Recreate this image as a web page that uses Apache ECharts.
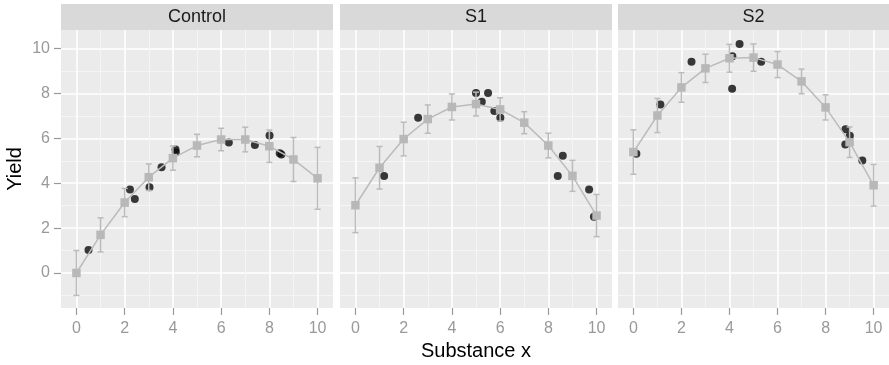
<!DOCTYPE html>
<html>
<head>
<meta charset="utf-8">
<script src="https://cdn.jsdelivr.net/npm/echarts@6/dist/echarts.min.js"></script>
<style>
html,body{margin:0;padding:0;background:#fff;}
#chart{width:889px;height:365px;}
</style>
</head>
<body>
<div id="chart"></div>
<script>
// ---- data ----
var panelNames = ['Control', 'S1', 'S2'];
var xLevels = [0, 1, 2, 3, 4, 5, 6, 7, 8, 9, 10];
var xTicks = [0, 2, 4, 6, 8, 10];
var xMinorTicks = [1, 3, 5, 7, 9];
var yTicks = [0, 2, 4, 6, 8, 10];
var yMinorTicks = [-1, 1, 3, 5, 7, 9];

var controlMean = [0.0, 1.70, 3.14, 4.27, 5.12, 5.68, 5.95, 5.95, 5.65, 5.06, 4.22];
var controlErr  = [1.0, 0.76, 0.63, 0.59, 0.54, 0.50, 0.50, 0.55, 0.72, 0.98, 1.38];
var s1Mean = [3.02, 4.69, 5.97, 6.86, 7.40, 7.53, 7.29, 6.70, 5.68, 4.33, 2.56];
var s1Err  = [1.22, 0.95, 0.75, 0.63, 0.58, 0.53, 0.52, 0.49, 0.55, 0.69, 0.94];
var s2Mean = [5.39, 7.02, 8.27, 9.12, 9.57, 9.60, 9.29, 8.54, 7.38, 5.83, 3.91];
var s2Err  = [0.99, 0.76, 0.66, 0.63, 0.62, 0.61, 0.58, 0.55, 0.56, 0.68, 0.93];

var controlPtsX = [0.5, 2.22, 2.42, 3.03, 3.53, 4.11, 4.12, 6.32, 7.4, 8.01, 8.43, 8.5];
var controlPtsY = [1.03, 3.72, 3.30, 3.82, 4.71, 5.50, 5.38, 5.82, 5.70, 6.13, 5.34, 5.28];
var s1PtsX = [1.19, 2.6, 5.0, 5.24, 5.5, 5.76, 6.01, 8.39, 8.6, 9.69, 9.89];
var s1PtsY = [4.32, 6.92, 8.02, 7.63, 8.02, 7.22, 6.92, 4.32, 5.22, 3.72, 2.51];
var s2PtsX = [0.125, 1.125, 2.42, 4.11, 4.12, 4.42, 5.32, 8.83, 9.01, 8.82, 9.53];
var s2PtsY = [5.31, 7.51, 9.42, 8.21, 9.66, 10.21, 9.42, 6.41, 6.12, 5.73, 5.01];

// ---- layout / style ----
var FONT = 'Liberation Sans, Arial, Helvetica, sans-serif';
var panels = [
  {left: 61, width: 272, mean: controlMean, err: controlErr, px: controlPtsX, py: controlPtsY},
  {left: 340, width: 272, mean: s1Mean, err: s1Err, px: s1PtsX, py: s1PtsY},
  {left: 618, width: 271, mean: s2Mean, err: s2Err, px: s2PtsX, py: s2PtsY}
];
var TOP = 30, HEIGHT = 278;
var XMIN = -0.64, XMAX = 10.64, YMIN = -1.56, YMAX = 10.83;
var GREY = '#BBBBBB';
var TICKCOL = '#999999';

var grids = [], xAxes = [], yAxes = [], series = [], graphics = [];

panels.forEach(function (p, i) {
  grids.push({left: p.left, top: TOP, width: p.width, height: HEIGHT, show: true,
    backgroundColor: '#EBEBEB', borderWidth: 0, containLabel: false, outerBoundsMode: 'none'});
  // minor axes (first, drawn below)
  xAxes.push({gridIndex: i, type: 'value', position: 'bottom', min: XMIN, max: XMAX,
    axisLine: {show: false, onZero: false}, axisLabel: {show: false},
    axisTick: {show: false, customValues: xMinorTicks},
    splitLine: {show: true, lineStyle: {color: '#F5F5F5', width: 1}}});
  yAxes.push({gridIndex: i, type: 'value', position: 'left', min: YMIN, max: YMAX,
    axisLine: {show: false, onZero: false}, axisLabel: {show: false},
    axisTick: {show: false, customValues: yMinorTicks},
    splitLine: {show: true, lineStyle: {color: '#F5F5F5', width: 1}}});
  // major axes
  var xa = {gridIndex: i, type: 'value', position: 'bottom', min: XMIN, max: XMAX,
    axisLine: {show: false, onZero: false},
    axisTick: {show: true, length: 7, customValues: xTicks, lineStyle: {color: TICKCOL, width: 1.2}},
    axisLabel: {show: true, customValues: xTicks, color: TICKCOL, fontSize: 16, fontFamily: FONT, margin: 13},
    splitLine: {show: true, lineStyle: {color: '#FFFFFF', width: 1.6}}};
  if (i === 1) {
    xa.name = 'Substance x';
    xa.nameLocation = 'middle';
    xa.nameGap = 33;
    xa.nameTextStyle = {color: '#000', fontSize: 20, fontFamily: FONT};
  }
  xAxes.push(xa);
  var ya = {gridIndex: i, type: 'value', position: 'left', min: YMIN, max: YMAX,
    axisLine: {show: false, onZero: false},
    axisTick: {show: i === 0, length: 7, customValues: yTicks, lineStyle: {color: TICKCOL, width: 1.2}},
    axisLabel: {show: i === 0, customValues: yTicks, color: TICKCOL, fontSize: 16, fontFamily: FONT, margin: 11},
    splitLine: {show: true, lineStyle: {color: '#FFFFFF', width: 1.6}}};
  if (i === 0) {
    ya.name = 'Yield';
    ya.nameLocation = 'middle';
    ya.nameGap = 36;
    ya.nameTextStyle = {color: '#000', fontSize: 20, fontFamily: FONT};
  }
  yAxes.push(ya);

  var xi = 2 * i + 1, yi = 2 * i + 1;
  series.push({type: 'scatter', xAxisIndex: xi, yAxisIndex: yi, z: 2,
    symbol: 'circle', symbolSize: 8, itemStyle: {color: '#0A0A0A'},
    data: p.px.map(function (x, k) { return [x, p.py[k]]; })});
  series.push({type: 'custom', xAxisIndex: xi, yAxisIndex: yi, z: 3,
    data: xLevels.map(function (x, k) { return [x, p.mean[k] - p.err[k], p.mean[k] + p.err[k]]; }),
    renderItem: function (params, api) {
      var x = api.value(0), lo = api.value(1), hi = api.value(2);
      var top = api.coord([x, hi]), bot = api.coord([x, lo]);
      var hw = api.size([0.125, 0])[0];
      var st = {stroke: GREY, lineWidth: 1.5};
      return {type: 'group', children: [
        {type: 'line', shape: {x1: top[0], y1: top[1], x2: bot[0], y2: bot[1]}, style: st},
        {type: 'line', shape: {x1: top[0] - hw, y1: top[1], x2: top[0] + hw, y2: top[1]}, style: st},
        {type: 'line', shape: {x1: bot[0] - hw, y1: bot[1], x2: bot[0] + hw, y2: bot[1]}, style: st}
      ]};
    }});
  series.push({type: 'line', xAxisIndex: xi, yAxisIndex: yi, z: 4,
    symbol: 'rect', symbolSize: 8.5, showSymbol: true,
    itemStyle: {color: '#B8B8B8'}, lineStyle: {color: GREY, width: 1.5},
    data: xLevels.map(function (x, k) { return [x, p.mean[k]]; })});

  graphics.push({type: 'rect', left: p.left, top: 4, shape: {width: p.width, height: 26},
    style: {fill: '#D9D9D9'}, silent: true});
  graphics.push({type: 'text', x: p.left + p.width / 2, y: 17,
    style: {text: panelNames[i], fill: '#1A1A1A', font: '18px ' + FONT, align: 'center', verticalAlign: 'middle'},
    silent: true});
});

var chart = echarts.init(document.getElementById('chart'));
chart.setOption({
  animation: false,
  backgroundColor: '#FFFFFF',
  textStyle: {fontFamily: FONT},
  grid: grids,
  xAxis: xAxes,
  yAxis: yAxes,
  series: series,
  graphic: graphics
});
</script>
</body>
</html>
